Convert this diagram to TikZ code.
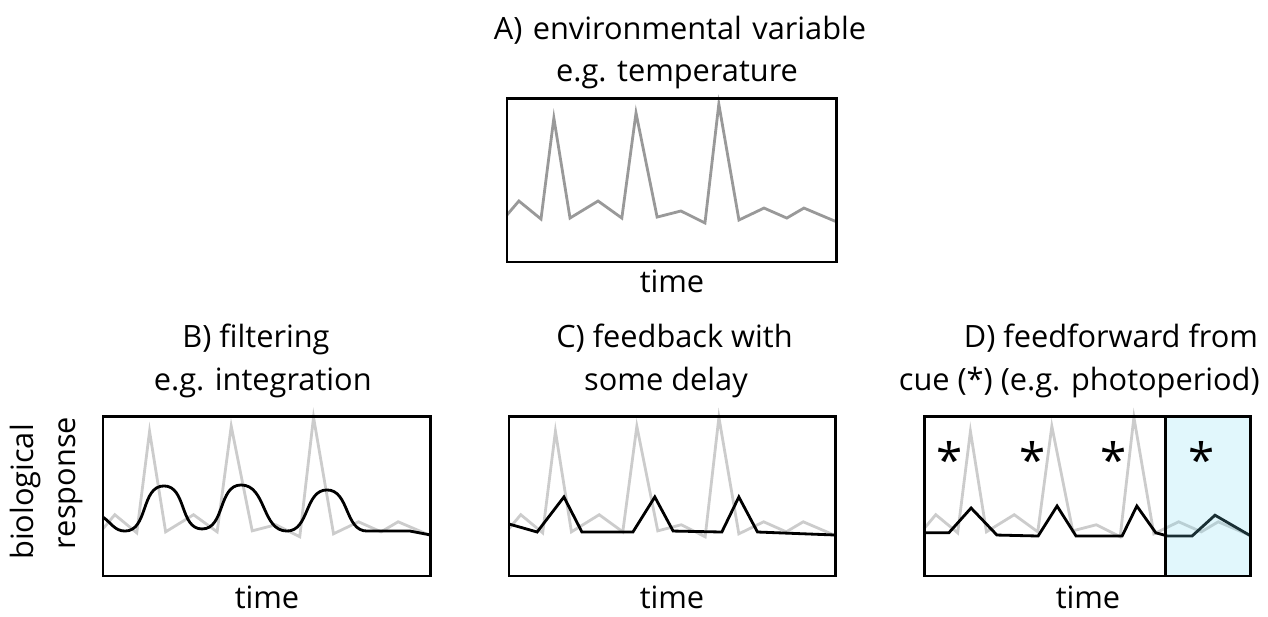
\documentclass[tikz,border=0pt]{standalone}
\usepackage{fontspec}
\setmainfont{Open Sans}
\begin{document}
\begin{tikzpicture}[x=0.02cm,y=0.02cm,
  lbl/.style={font=\fontsize{17.5}{22}\selectfont, inner sep=0pt, anchor=base},
  star/.style={font=\fontsize{27}{27}\selectfont, inner sep=0pt},
  panelbox/.style={draw=black, line width=1.7pt},
  envdark/.style={draw=black!40, line width=1.6pt},
  envlight/.style={draw=black!20, line width=1.6pt},
  resp/.style={draw=black, line width=1.6pt},
  cuefill/.style={fill={rgb,255:red,118;green,218;blue,241}, fill opacity=0.22}]
\useasboundingbox (0,0) rectangle (1268,616);
\def\envpts{(0,0.287) -- (0.036,0.372) -- (0.103,0.262) -- (0.142,0.878) -- (0.191,0.268) -- (0.276,0.372) -- (0.348,0.268) -- (0.391,0.909) -- (0.455,0.274) -- (0.527,0.311) -- (0.6,0.238) -- (0.642,0.963) -- (0.703,0.256) -- (0.779,0.329) -- (0.848,0.268) -- (0.9,0.329) -- (1,0.244)}

% ---- Panel A
\begin{scope}[shift={(507,354)}, x=6.6cm, y=3.28cm]
  \draw[envdark] \envpts;
  \draw[panelbox] (0,0) rectangle (1,1);
\end{scope}
\node[lbl] (tA1) at (680,576) {\spaceskip=0.34em\relax A) environmental variable};
\node[lbl] (tA2) at (677,534) {e.g. temperature};
\node[lbl] (timeA) at (672,323) {time};

% ---- Panel B
\begin{scope}[shift={(103,40)}, x=6.56cm, y=3.2cm]
  \begin{scope}[yscale=1.03]
    \draw[envlight] \envpts;
  \end{scope}
  \draw[resp] (0,0.368) to[out=-35,in=180] (0.067,0.281) to[out=0,in=180] (0.186,0.563)
     to[out=0,in=180] (0.302,0.294) to[out=0,in=180] (0.421,0.569)
     to[out=0,in=180] (0.561,0.281) to[out=0,in=180] (0.683,0.538)
     to[out=0,in=180] (0.805,0.281) -- (0.936,0.281) -- (1,0.256);
  \draw[panelbox] (0,0) rectangle (1,1);
\end{scope}
\node[lbl] (tB1) at (256,269) {B) filtering};
\node[lbl, anchor=base east] (tB2) at (372,226) {e.g. integration};
\node[lbl] (timeB) at (267,8) {time};

% ---- Panel C
\begin{scope}[shift={(509,40)}, x=6.54cm, y=3.2cm]
  \begin{scope}[yscale=1.03]
    \draw[envlight] \envpts;
  \end{scope}
  \draw[resp] (0,0.325) -- (0.086,0.275) -- (0.168,0.494) -- (0.223,0.275) -- (0.379,0.275)
     -- (0.446,0.494) -- (0.502,0.281) -- (0.651,0.275) -- (0.703,0.494) -- (0.76,0.275) -- (1,0.256);
  \draw[panelbox] (0,0) rectangle (1,1);
\end{scope}
\node[lbl, anchor=base east] (tC1) at (793,269) {C) feedback with};
\node[lbl] (tC2) at (666,226) {some delay};
\node[lbl] (timeC) at (672,8) {time};

% ---- Panel D
\begin{scope}[shift={(924,40)}, x=6.54cm, y=3.2cm]
  \begin{scope}[yscale=1.03]
    \draw[envlight] \envpts;
  \end{scope}
  \draw[resp] (0,0.27) -- (0.076,0.27) -- (0.144,0.425) -- (0.223,0.256) -- (0.349,0.25)
     -- (0.407,0.4375) -- (0.465,0.25) -- (0.606,0.25) -- (0.651,0.4375) -- (0.709,0.27)
     -- (0.745,0.25) -- (0.82,0.25) -- (0.89,0.38) -- (1,0.25);
  \fill[cuefill] (0.74,0) rectangle (1,1);
  \draw[panelbox] (0.74,0) -- (0.74,1);
  \draw[panelbox] (0,0) rectangle (1,1);
\end{scope}
\node[star] (s1) at (950,157) {*};
\node[star] (s2) at (1033,157) {*};
\node[star] (s3) at (1114,157) {*};
\node[star] (s4) at (1202,157) {*};
\node[lbl] (tD1) at (1111,269) {D) feedforward from};
\node[lbl, anchor=base east] (tD2) at (1260,226) {cue (*) (e.g. photoperiod)};
\node[lbl] (timeD) at (1088,8) {time};

% ---- y-axis label
\node[lbl, rotate=90] (ylab1) at (33,124) {biological};
\node[lbl, rotate=90] (ylab2) at (75,133) {response};
\end{tikzpicture}
\end{document}
